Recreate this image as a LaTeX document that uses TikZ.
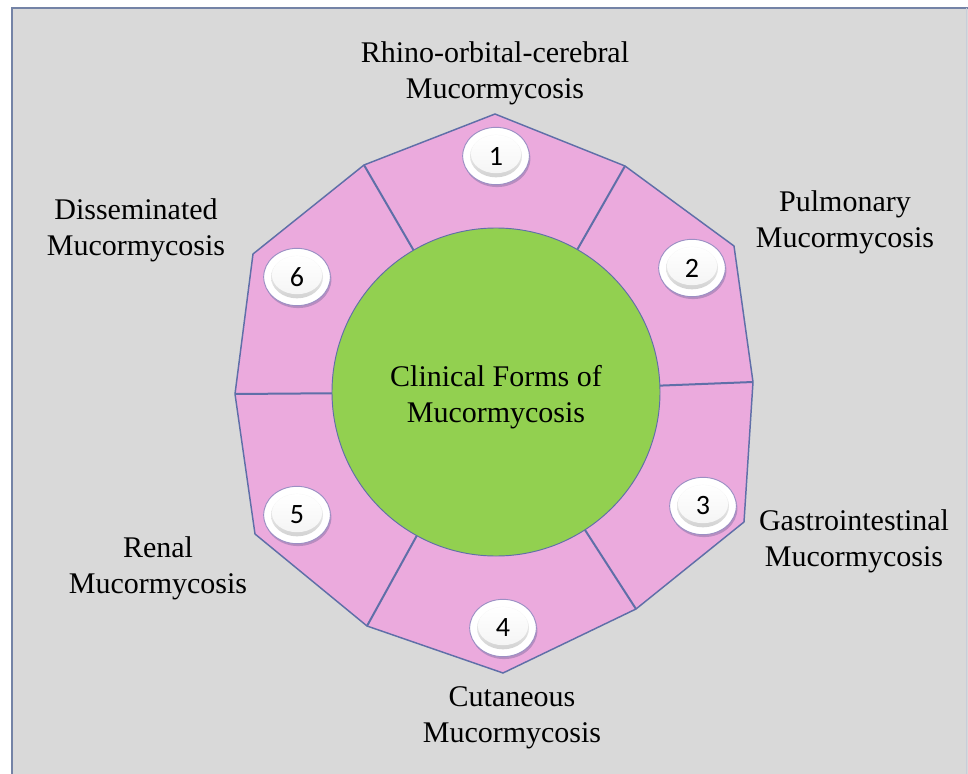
\documentclass[tikz,border=0pt]{standalone}
\usepackage{fontspec}
\setmainfont{Liberation Serif}
\newfontfamily\numfont{Carlito}
\usetikzlibrary{shapes.geometric,shadows}
\definecolor{bgc}{HTML}{D9D9D9}
\definecolor{framec}{HTML}{7483A6}
\definecolor{pinkc}{HTML}{EBAADD}
\definecolor{greenc}{HTML}{92D050}
\definecolor{linec}{HTML}{5F6FA8}
\definecolor{rimc}{HTML}{9C8FC4}
\definecolor{shadowc}{HTML}{7A6A9E}
\tikzset{
  lbl/.style={align=center, inner sep=0pt, font=\fontsize{22.5}{27}\selectfont},
  badge/.style={ellipse, minimum width=50pt, minimum height=43pt, inner sep=0pt,
    fill=white, draw=rimc, line width=0.7pt,
    font=\numfont\fontsize{21}{21}\selectfont,
    drop shadow={shadow xshift=0.8pt, shadow yshift=-1.8pt, fill=shadowc, opacity=0.45},
    path picture={
      \shade[top color=white, bottom color=gray!40]
        (path picture bounding box.center) ellipse [x radius=19.5pt, y radius=16pt];
      \shade[top color=white, bottom color=gray!8] ([yshift=1.4pt]path picture bounding box.center)
        ellipse [x radius=18.8pt, y radius=14.3pt];
    }},
  hubstyle/.style={circle, minimum size=246pt, inner sep=0pt, fill=greenc,
    draw=linec, line width=0.7pt},
  spoke/.style={draw=linec, line width=1.5pt},
}
\begin{document}
\begin{tikzpicture}[x=0.75pt, y=-0.75pt]
\useasboundingbox (0,0) rectangle (968,774);
\fill[white] (0,0) rectangle (968,774);
\fill[bgc] (12,8) rectangle (968,774);
\draw[framec, line width=1.6pt] (12,776) -- (12,8) -- (968,8);
\draw[framec!40, line width=0.6pt] (966,8) -- (966,776);

% ring vertices
\coordinate (c) at (496,392);
\coordinate (o1) at (495,114);
\coordinate (v1) at (625,166);
\coordinate (o2) at (734,246);
\coordinate (v2) at (753,382);
\coordinate (o3) at (744,522);
\coordinate (v3) at (636,609);
\coordinate (o4) at (503,673);
\coordinate (v4) at (367,626);
\coordinate (o5) at (255,534);
\coordinate (v5) at (235,394);
\coordinate (o6) at (253,254);
\coordinate (v6) at (364,165);

\filldraw[fill=pinkc, draw=linec, line width=1.1pt, line join=miter]
  (o1) -- (v1) -- (o2) -- (v2) -- (o3) -- (v3) -- (o4) -- (v4) -- (o5) -- (v5) -- (o6) -- (v6) -- cycle;
\foreach \v in {v1,v2,v3,v4,v5,v6} \draw[spoke] (c) -- (\v);

\node[hubstyle] (hub) at (c) {};
\node[lbl] (ht) at (496,397) {Clinical Forms of\\Mucormycosis};

\node[badge] (b1) at (496,156) {1};
\node[badge] (b2) at (692,268) {2};
\node[badge] (b3) at (703,506) {3};
\node[badge] (b4) at (503,628) {4};
\node[badge] (b5) at (297,515) {5};
\node[badge] (b6) at (297,277) {6};

\node[lbl] (t1) at (495,73) {Rhino-orbital-cerebral\\Mucormycosis};
\node[lbl] (t2) at (845,222) {Pulmonary\\Mucormycosis};
\node[lbl] (t3) at (854,541) {Gastrointestinal\\Mucormycosis};
\node[lbl] (t4) at (512,718) {Cutaneous\\Mucormycosis};
\node[lbl] (t5) at (158,568) {Renal\\Mucormycosis};
\node[lbl] (t6) at (136,230) {Disseminated\\Mucormycosis};
\end{tikzpicture}
\end{document}
